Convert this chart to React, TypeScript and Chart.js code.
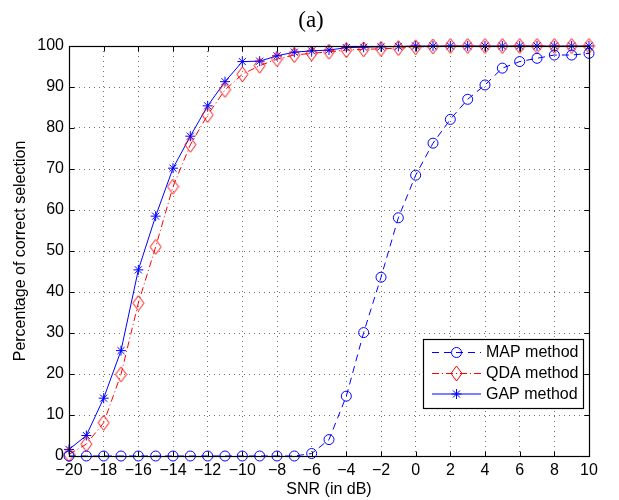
import React, { useEffect, useRef } from 'react';
import { Chart, registerables } from 'chart.js';
import { drawPoint } from 'chart.js/helpers';

Chart.register(...registerables);

// ---- data ----
const snr = [-20, -19, -18, -17, -16, -15, -14, -13, -12, -11, -10, -9, -8, -7, -6, -5, -4, -3, -2, -1, 0, 1, 2, 3, 4, 5, 6, 7, 8, 9, 10];
const mapValues = [0, 0, 0, 0, 0, 0, 0, 0, 0, 0, 0, 0, 0, 0, 0.6, 4.0, 14.6, 30.1, 43.6, 58.1, 68.5, 76.3, 82.1, 87.0, 90.5, 94.6, 96.2, 97.0, 97.8, 97.8, 98.2];
const qdaValues = [0.4, 2.9, 8.1, 19.9, 37.3, 51.0, 65.7, 75.9, 83.2, 89.3, 93.1, 95.2, 96.8, 97.8, 98.2, 98.6, 99.0, 99.2, 99.3, 99.5, 99.7, 99.9, 100, 100, 100, 100, 100, 100, 100, 100, 100];
const gapValues = [1.6, 5.0, 14.1, 25.7, 45.4, 58.5, 70.2, 78.0, 85.4, 91.3, 96.2, 96.3, 97.6, 98.5, 98.8, 99.0, 99.6, 99.7, 99.8, 99.9, 100, 100, 100, 100, 100, 100, 100, 100, 100, 100, 100];
const seriesLabels = ['MAP method', 'QDA method', 'GAP method'];
const xTickValues = [-20, -18, -16, -14, -12, -10, -8, -6, -4, -2, 0, 2, 4, 6, 8, 10];
const yTickValues = [0, 10, 20, 30, 40, 50, 60, 70, 80, 90, 100];
const titleText = '(a)';
const xLabel = 'SNR (in dB)';
const yLabel = 'Percentage of correct selection';

const SANS = '"Liberation Sans", Arial, Helvetica, sans-serif';
const SERIF = '"Liberation Serif", "Times New Roman", serif';

function makeDiamond(color: string): HTMLCanvasElement {
  const c = document.createElement('canvas');
  c.width = 13;
  c.height = 17;
  const g = c.getContext('2d')!;
  g.strokeStyle = color;
  g.lineWidth = 1;
  g.beginPath();
  g.moveTo(6.5, 1);
  g.lineTo(12, 8.5);
  g.lineTo(6.5, 16);
  g.lineTo(1, 8.5);
  g.closePath();
  g.stroke();
  return c;
}

const framePlugin = {
  id: 'matlabFrame',
  afterDatasetsDraw(chart: any) {
    const { ctx, chartArea: a, scales } = chart;
    const L = Math.round(a.left) + 0.5;
    const R = Math.round(a.right) + 0.5;
    const T = Math.round(a.top) + 0.5;
    const B = Math.round(a.bottom) + 0.5;
    ctx.save();
    ctx.strokeStyle = '#000';
    ctx.lineWidth = 1.2;
    ctx.strokeRect(L, T, R - L, B - T);
    const tl = 5;
    ctx.lineWidth = 1;
    ctx.beginPath();
    for (const v of xTickValues) {
      const px = Math.round(scales.x.getPixelForValue(v)) + 0.5;
      ctx.moveTo(px, B);
      ctx.lineTo(px, B - tl);
      ctx.moveTo(px, T);
      ctx.lineTo(px, T + tl);
    }
    for (const v of yTickValues) {
      const py = Math.round(scales.y.getPixelForValue(v)) + 0.5;
      ctx.moveTo(L, py);
      ctx.lineTo(L + tl, py);
      ctx.moveTo(R, py);
      ctx.lineTo(R - tl, py);
    }
    ctx.stroke();
    ctx.restore();
  },
  afterDraw(chart: any) {
    const { ctx, chartArea: a } = chart;
    ctx.save();
    // title
    ctx.fillStyle = '#000';
    ctx.font = `23px ${SERIF}`;
    ctx.textAlign = 'center';
    ctx.textBaseline = 'alphabetic';
    ctx.fillText(titleText, 311, 27);
    // x label
    ctx.font = `16px ${SANS}`;
    ctx.textBaseline = 'middle';
    ctx.fillText(xLabel, (a.left + a.right) / 2, 490);
    // y label
    ctx.save();
    ctx.translate(21, (a.top + a.bottom) / 2);
    ctx.rotate(-Math.PI / 2);
    ctx.fillText(yLabel, 0, 0);
    ctx.restore();

    // legend
    const bx = 423.5, by = 339.5, bw = 160, bh = 69;
    ctx.fillStyle = '#fff';
    ctx.fillRect(bx, by, bw, bh);
    ctx.strokeStyle = '#000';
    ctx.lineWidth = 1.2;
    ctx.strokeRect(bx, by, bw, bh);
    const rows = [352.5, 373.5, 394];
    chart.data.datasets.forEach((ds: any, i: number) => {
      const y = rows[i];
      ctx.save();
      ctx.strokeStyle = ds.borderColor;
      ctx.lineWidth = ds.borderWidth;
      ctx.setLineDash(ds.borderDash || []);
      ctx.beginPath();
      ctx.moveTo(432, y);
      ctx.lineTo(481, y);
      ctx.stroke();
      ctx.restore();
      ctx.save();
      ctx.strokeStyle = ds.pointBorderColor;
      ctx.fillStyle = ds.pointBackgroundColor;
      ctx.lineWidth = ds.pointBorderWidth;
      drawPoint(ctx, {
        pointStyle: ds.pointStyle,
        radius: ds.pointRadius,
        rotation: 0,
        borderWidth: ds.pointBorderWidth,
      } as any, 456.5, y);
      ctx.restore();
      ctx.fillStyle = '#000';
      ctx.font = `16px ${SANS}`;
      ctx.textAlign = 'left';
      ctx.textBaseline = 'middle';
      ctx.fillText(ds.label, 486, y + 0.5);
    });
    ctx.restore();
  },
};

export default function App() {
  const ref = useRef<HTMLCanvasElement | null>(null);
  useEffect(() => {
    document.body.style.margin = '0';
    const canvas = ref.current!;
    const diamond = makeDiamond('#ff0000');
    const blue = '#0000ff';
    const red = '#ff0000';
    const chart = new Chart(canvas, {
      type: 'line',
      data: {
        datasets: [
          {
            label: seriesLabels[0],
            data: snr.map((x, i) => ({ x, y: mapValues[i] })),
            borderColor: blue,
            borderWidth: 1,
            borderDash: [7, 5],
            pointStyle: 'circle',
            pointRadius: 5,
            pointBorderColor: blue,
            pointBackgroundColor: 'rgba(0,0,0,0)',
            pointBorderWidth: 1,
            clip: false as any,
          },
          {
            label: seriesLabels[1],
            data: snr.map((x, i) => ({ x, y: qdaValues[i] })),
            borderColor: red,
            borderWidth: 1,
            borderDash: [7, 3, 1, 3],
            pointStyle: diamond as any,
            pointRadius: 6,
            pointBorderColor: red,
            pointBackgroundColor: 'rgba(0,0,0,0)',
            pointBorderWidth: 1,
            clip: false as any,
          },
          {
            label: seriesLabels[2],
            data: snr.map((x, i) => ({ x, y: gapValues[i] })),
            borderColor: blue,
            borderWidth: 1,
            pointStyle: 'star',
            pointRadius: 5,
            pointBorderColor: blue,
            pointBackgroundColor: 'rgba(0,0,0,0)',
            pointBorderWidth: 1,
            clip: false as any,
          },
        ],
      },
      options: {
        responsive: false,
        animation: false,
        layout: { padding: { left: 0, right: 30, top: 46, bottom: 0 } },
        plugins: { legend: { display: false }, tooltip: { enabled: false }, title: { display: false } },
        elements: { line: { tension: 0 } },
        scales: {
          x: {
            type: 'linear',
            min: -20,
            max: 10,
            afterBuildTicks: (s: any) => { s.ticks = xTickValues.map((v) => ({ value: v })); },
            afterFit: (s: any) => { s.height = 44; },
            ticks: {
              color: '#000',
              padding: 5,
              maxRotation: 0,
              autoSkip: false,
              font: { family: SANS, size: 16 },
              callback: (v: any) => String(v).replace('-', '\u2212'),
            },
            grid: { color: 'rgba(0,0,0,0.55)', lineWidth: 1, drawTicks: false },
            border: { display: false, dash: [1, 4] },
          },
          y: {
            type: 'linear',
            min: 0,
            max: 100,
            afterBuildTicks: (s: any) => { s.ticks = yTickValues.map((v) => ({ value: v })); },
            afterFit: (s: any) => { s.width = 69; },
            ticks: {
              color: '#000',
              padding: 5,
              autoSkip: false,
              font: { family: SANS, size: 16 },
            },
            grid: { color: 'rgba(0,0,0,0.55)', lineWidth: 1, drawTicks: false },
            border: { display: false, dash: [1, 4] },
          },
        },
      },
      plugins: [framePlugin],
    });
    return () => chart.destroy();
  }, []);
  return (
    <div style={{ width: 619, height: 500 }}>
      <canvas ref={ref} width={619} height={500} style={{ display: 'block' }} />
    </div>
  );
}
